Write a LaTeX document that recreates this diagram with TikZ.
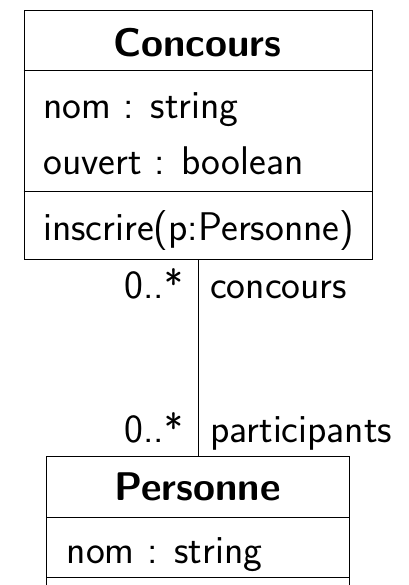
\documentclass[tikz,border=0pt]{standalone}
\usepackage{fontspec}
\begin{document}
\begin{tikzpicture}[x=1pt,y=-1pt,
  font=\sffamily\fontsize{40}{48}\selectfont,
  umlbox/.style={draw, line width=0.8pt, rectangle, inner sep=0pt, anchor=north west},
  txt/.style={inner sep=0pt},
  sep/.style={line width=0.8pt},
  assoc/.style={line width=0.8pt}]
\useasboundingbox (0,0) rectangle (408,585);
\clip (0,0) rectangle (408,585);
% Concours class
\node (concours) [umlbox, minimum width=348pt, minimum height=249pt] at (23.5,10) {};
\draw[sep] ([yshift=-60pt]concours.north west) -- ([yshift=-60pt]concours.north east);
\draw[sep] ([yshift=-181.5pt]concours.north west) -- ([yshift=-181.5pt]concours.north east);
\node (ctitle) [txt, anchor=base, font=\sffamily\bfseries\fontsize{40}{48}\selectfont] at (197.5,57) {Concours};
\node (cnom) [txt, anchor=base west] at (43,119) {nom : string};
\node (couvert) [txt, anchor=base west] at (43,175) {ouvert : boolean};
\node (cinscrire) [txt, anchor=base west] at (43,240.5) {inscrire(p:Personne)};
% Personne class
\node (personne) [umlbox, minimum width=303pt, minimum height=200pt] at (46,456) {};
\draw[sep] ([yshift=-61pt]personne.north west) -- ([yshift=-61pt]personne.north east);
\draw[sep] ([yshift=-121pt]personne.north west) -- ([yshift=-121pt]personne.north east);
\node (ptitle) [txt, anchor=base, font=\sffamily\bfseries\fontsize{40}{48}\selectfont] at (197.5,500) {Personne};
\node (pnom) [txt, anchor=base west] at (66.5,563) {nom : string};
% association
\draw[assoc] (concours.south) -- (personne.north);
\node (m1) [txt, anchor=base east] at (183,298) {0..*};
\node (r1) [txt, anchor=base west] at (210,298) {concours};
\node (m2) [txt, anchor=base east] at (183,442) {0..*};
\node (r2) [txt, anchor=base west] at (210,442) {participants};
\end{tikzpicture}
\end{document}
